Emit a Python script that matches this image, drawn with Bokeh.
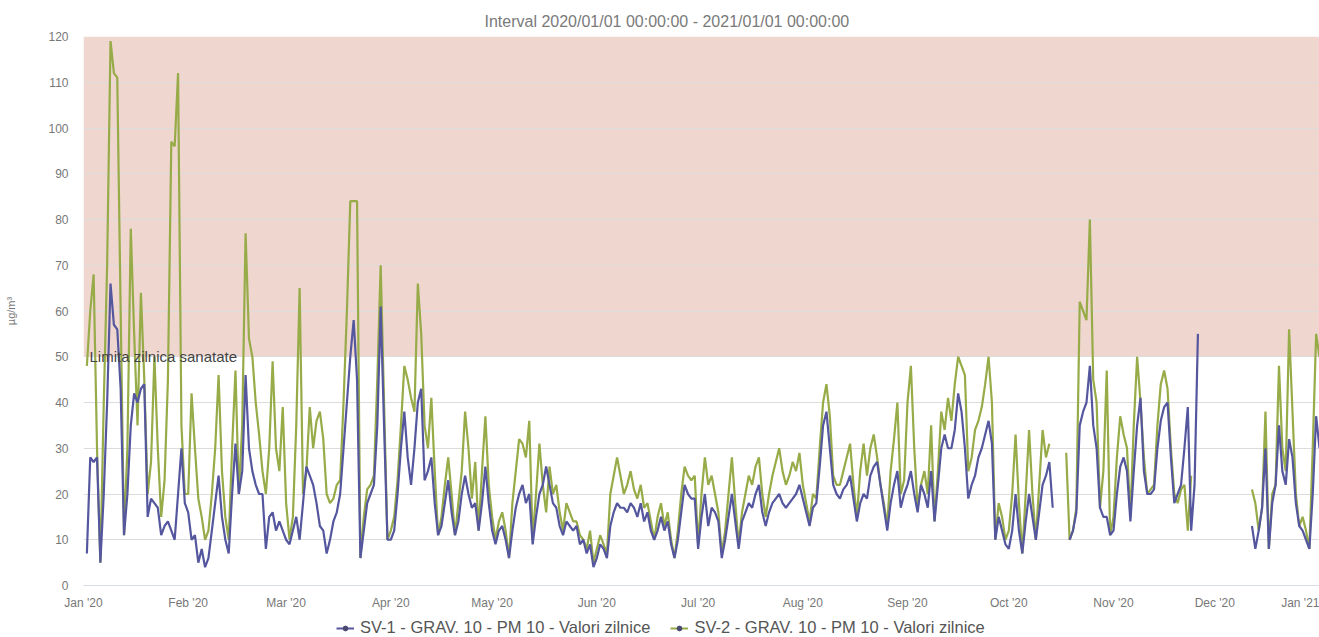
import numpy as np
import pandas as pd
from bokeh.plotting import figure
from bokeh.layouts import column
from bokeh.models import (Range1d, FixedTicker, BoxAnnotation, Label, Legend,
                          LegendItem, ColumnDataSource)
from bokeh.embed import file_html
from bokeh.resources import INLINE

TITLE = "Interval 2020/01/01 00:00:00 - 2021/01/01 00:00:00"
Y_LABEL = "µg/m³"
SV1_NAME = "SV-1 - GRAV. 10 - PM 10 - Valori zilnice"
SV2_NAME = "SV-2 - GRAV. 10 - PM 10 - Valori zilnice"
LIMIT = 50
LIMIT_LABEL = "Limita zilnica sanatate"
Y_MAX = 120
Y_TICKS = [0, 10, 20, 30, 40, 50, 60, 70, 80, 90, 100, 110, 120]
START_DATE = "2020-01-01"
MONTH_LABELS = ["Jan '20", "Feb '20", "Mar '20", "Apr '20", "May '20", "Jun '20",
                "Jul '20", "Aug '20", "Sep '20", "Oct '20", "Nov '20", "Dec '20", "Jan '21"]
N = None

# SV-2 (green) daily values
sv2_jan = [N, 48, 60, 68, 30, 5, 40, 70, 119, 112, 111, 60, 11, 30, 78, 55, 35, 64, 45, 20,
           27, 50, 30, 15, 23, 45, 97, 96, 112, 35, 20]
sv2_feb = [20, 42, 30, 19, 15, 10, 12, 20, 30, 46, 25, 15, 10, 30, 47, 20, 35, 77, 54, 50,
           40, 33, 25, 20, 30, 49, 30, 25, 39]
sv2_mar = [18, 10, 15, 35, 65, 20, 25, 39, 30, 36, 38, 32, 20, 18, 19, 22, 23, 40, 60, 84,
           84, 84, 6, 15, 21, 22, 24, 45, 70, 40, 10]
sv2_apr = [12, 15, 23, 35, 48, 45, 41, 38, 66, 55, 35, 30, 41, 25, 11, 15, 22, 28, 20, 11,
           18, 25, 38, 30, 19, 27, 12, 25, 37, 22]
sv2_may = [15, 10, 14, 16, 12, 6, 18, 25, 32, 31, 28, 36, 10, 20, 31, 22, 16, 26, 20, 22,
           16, 12, 18, 16, 14, 14, 11, 10, 8, 12, 5]
sv2_jun = [8, 11, 9, 7, 20, 24, 28, 24, 20, 22, 25, 21, 19, 22, 17, 18, 14, 10, 15, 18,
           13, 16, 10, 6, 12, 20, 26, 24, 23, 24]
sv2_jul = [9, 20, 28, 22, 24, 20, 16, 7, 12, 20, 28, 18, 9, 16, 20, 24, 22, 26, 28, 20,
           15, 20, 24, 27, 30, 25, 22, 24, 27, 25, 29]
sv2_aug = [22, 18, 14, 20, 19, 30, 40, 44, 37, 24, 22, 22, 25, 28, 31, 22, 15, 25, 31, 24,
           30, 33, 28, 22, 18, 13, 25, 32, 40, 20, 23]
sv2_sep = [40, 48, 30, 17, 22, 25, 20, 35, 14, 25, 38, 34, 41, 36, 44, 50, 48, 46, 25, 28,
           34, 36, 39, 44, 50, 40, 10, 18, 15, 10]
sv2_oct = [12, 20, 33, 18, 7, 20, 34, 20, 10, 22, 34, 28, 31, N, N, N, N, 29, 10, 12,
           17, 62, 60, 58, 80, 45, 40, 17, 25, 47, 11]
sv2_nov = [15, 28, 37, 33, 30, 15, 35, 50, 40, 28, 20, 21, 22, 35, 44, 47, 43, 30, 20, 18,
           21, 22, 12, 24, N, N, N, N, N, N]
sv2_dec = [N, N, N, N, N, N, N, N, N, N, N, 21, 18, 12, 17, 38, 8, 20, 22, 48,
           30, 25, 56, 38, 20, 13, 15, 12, 8, 30, 55]
sv2_jan21 = [50]

# SV-1 (purple) daily values
sv1_jan = [N, 7, 28, 27, 28, 5, 20, 40, 66, 57, 56, 43, 11, 20, 35, 42, 40, 43, 44, 15,
           19, 18, 17, 11, 13, 14, 12, 10, 20, 30, 18]
sv1_feb = [16, 10, 11, 5, 8, 4, 6, 12, 18, 24, 15, 10, 7, 20, 31, 20, 25, 46, 30, 25,
           22, 20, 20, 8, 15, 16, 12, 14, 12]
sv1_mar = [10, 9, 12, 15, 10, 18, 26, 24, 22, 18, 13, 12, 7, 10, 14, 16, 20, 30, 40, 50,
           58, 45, 6, 12, 18, 20, 22, 35, 61, 35, 10]
sv1_apr = [10, 12, 20, 30, 38, 28, 22, 30, 40, 43, 23, 25, 28, 18, 11, 13, 18, 23, 16, 11,
           14, 20, 24, 20, 17, 18, 12, 18, 26, 18]
sv1_may = [12, 9, 12, 13, 10, 6, 12, 17, 20, 22, 18, 20, 9, 15, 20, 22, 26, 22, 18, 17,
           13, 11, 14, 13, 12, 13, 9, 10, 7, 9, 4]
sv1_jun = [6, 9, 8, 6, 13, 16, 18, 17, 17, 16, 18, 17, 15, 18, 14, 16, 12, 10, 12, 15,
           12, 14, 9, 6, 10, 16, 22, 20, 19, 19]
sv1_jul = [8, 15, 20, 13, 17, 16, 14, 6, 10, 15, 20, 14, 8, 14, 16, 18, 17, 20, 22, 16,
           13, 16, 18, 19, 20, 18, 17, 18, 19, 20, 22]
sv1_aug = [19, 16, 13, 17, 18, 26, 35, 38, 30, 22, 20, 19, 21, 22, 24, 19, 14, 18, 20, 19,
           24, 26, 27, 22, 17, 12, 18, 22, 25, 17, 20]
sv1_sep = [22, 25, 20, 16, 22, 20, 17, 25, 14, 22, 30, 33, 30, 30, 34, 42, 38, 30, 19, 22,
           24, 28, 30, 33, 36, 31, 10, 15, 12, 9]
sv1_oct = [8, 12, 20, 12, 7, 14, 20, 15, 10, 16, 22, 24, 27, 17, N, N, N, N, 10, 12,
           16, 35, 38, 40, 48, 35, 30, 17, 15, 15, 11]
sv1_nov = [12, 20, 26, 28, 25, 14, 25, 35, 41, 25, 20, 20, 21, 30, 36, 39, 40, 28, 18, 20,
           22, 30, 39, 12, 22, 55, N, N, N, N]
sv1_dec = [N, N, N, N, N, N, N, N, N, N, N, 13, 8, 12, 17, 30, 8, 18, 22, 35,
           25, 22, 32, 28, 18, 13, 12, 10, 8, 20, 37]
sv1_jan21 = [30]

sv1 = (sv1_jan + sv1_feb + sv1_mar + sv1_apr + sv1_may + sv1_jun + sv1_jul + sv1_aug +
       sv1_sep + sv1_oct + sv1_nov + sv1_dec + sv1_jan21)
sv2 = (sv2_jan + sv2_feb + sv2_mar + sv2_apr + sv2_may + sv2_jun + sv2_jul + sv2_aug +
       sv2_sep + sv2_oct + sv2_nov + sv2_dec + sv2_jan21)

dates = pd.date_range(START_DATE, periods=len(sv1), freq="D")
day = np.array((dates - dates[0]).days, dtype=float)
to_arr = lambda v: np.array([np.nan if a is None else a for a in v], dtype=float)

src = ColumnDataSource(dict(x=day, sv1=to_arr(sv1), sv2=to_arr(sv2)))

month_starts = pd.date_range(START_DATE, periods=len(MONTH_LABELS), freq="MS")
month_ticks = [int(v) for v in (month_starts - dates[0]).days]

FONT = "Liberation Sans"
GREEN = "#97ab48"
PURPLE = "#55579e"

p = figure(width=1319, height=612, output_backend="svg", toolbar_location=None,
           x_range=Range1d(day[0], day[-1]), y_range=Range1d(0, Y_MAX),
           min_border_left=83, min_border_right=0, min_border_top=36,
           min_border_bottom=20, outline_line_color=None,
           background_fill_color="white", border_fill_color="white")

p.title.text = TITLE
p.title.align = "left"
p.title.offset = 401
p.title.text_color = "#7a7a7a"
p.title.text_font = FONT
p.title.text_font_size = "16px"
p.title.text_font_style = "normal"
p.title.standoff = 13

band = BoxAnnotation(bottom=LIMIT, top=Y_MAX, fill_color="#efd6cf", fill_alpha=1.0,
                     line_color=None, level="image")
p.add_layout(band)

p.ygrid.grid_line_color = "#dcdcdc"
p.ygrid.ticker = FixedTicker(ticks=Y_TICKS)
p.xgrid.visible = False

p.yaxis.ticker = FixedTicker(ticks=Y_TICKS)
p.yaxis.axis_line_color = None
p.yaxis.major_tick_line_color = None
p.yaxis.minor_tick_line_color = None
p.yaxis.major_label_text_color = "#777777"
p.yaxis.major_label_text_font = FONT
p.yaxis.major_label_text_font_size = "12px"
p.yaxis.major_label_standoff = 9
p.yaxis.axis_label = Y_LABEL
p.yaxis.axis_label_text_font = FONT
p.yaxis.axis_label_text_font_size = "11px"
p.yaxis.axis_label_text_font_style = "normal"
p.yaxis.axis_label_text_color = "#777777"
p.yaxis.axis_label_standoff = 28

p.xaxis.ticker = FixedTicker(ticks=month_ticks)
p.xaxis.major_label_overrides = {t: lab for t, lab in zip(month_ticks, MONTH_LABELS)}
p.xaxis.axis_line_color = "#d8dde8"
p.xaxis.major_tick_line_color = None
p.xaxis.minor_tick_line_color = None
p.xaxis.major_label_text_color = "#777777"
p.xaxis.major_label_text_font = FONT
p.xaxis.major_label_text_font_size = "12px"
p.xaxis.major_label_standoff = 4

r2 = p.line("x", "sv2", source=src, line_color=GREEN, line_width=2.2)
r1 = p.line("x", "sv1", source=src, line_color=PURPLE, line_width=2.2)

lim = Label(x=6, y=LIMIT, x_units="screen", y_units="data", text=LIMIT_LABEL,
            text_font=FONT, text_font_size="15px", text_color="#444444",
            text_baseline="middle")
p.add_layout(lim)

# legend strip below the chart (its glyph renderers sit outside the strip's range)
pl = figure(width=1319, height=25, output_backend="svg", toolbar_location=None,
            x_range=Range1d(0, 1), y_range=Range1d(0, 1),
            x_axis_location=None, y_axis_location=None, min_border=0,
            outline_line_color=None, background_fill_color="white",
            border_fill_color="white")
pl.grid.visible = False
off = dict(x=[-5, -4], y=[-5, -5])
l1 = pl.line(x=off["x"], y=off["y"], line_color=PURPLE, line_width=2)
m1 = pl.scatter(x=off["x"], y=off["y"], marker="circle", size=7, color="#4a4a70")
l2 = pl.line(x=off["x"], y=off["y"], line_color=GREEN, line_width=2)
m2 = pl.scatter(x=off["x"], y=off["y"], marker="circle", size=7, color="#4a4a70")

legend = Legend(items=[LegendItem(label=SV1_NAME, renderers=[l1, m1]),
                       LegendItem(label=SV2_NAME, renderers=[l2, m2])],
                orientation="horizontal", location=(253, 0),
                background_fill_alpha=0, border_line_color=None,
                label_text_font=FONT, label_text_font_size="16.5px",
                label_text_color="#555555", glyph_width=18, glyph_height=12,
                label_standoff=6, spacing=20, padding=3, margin=0)
pl.add_layout(legend)

layout = column(p, pl, spacing=0)
open("out.html", "w").write(file_html(layout, INLINE))
